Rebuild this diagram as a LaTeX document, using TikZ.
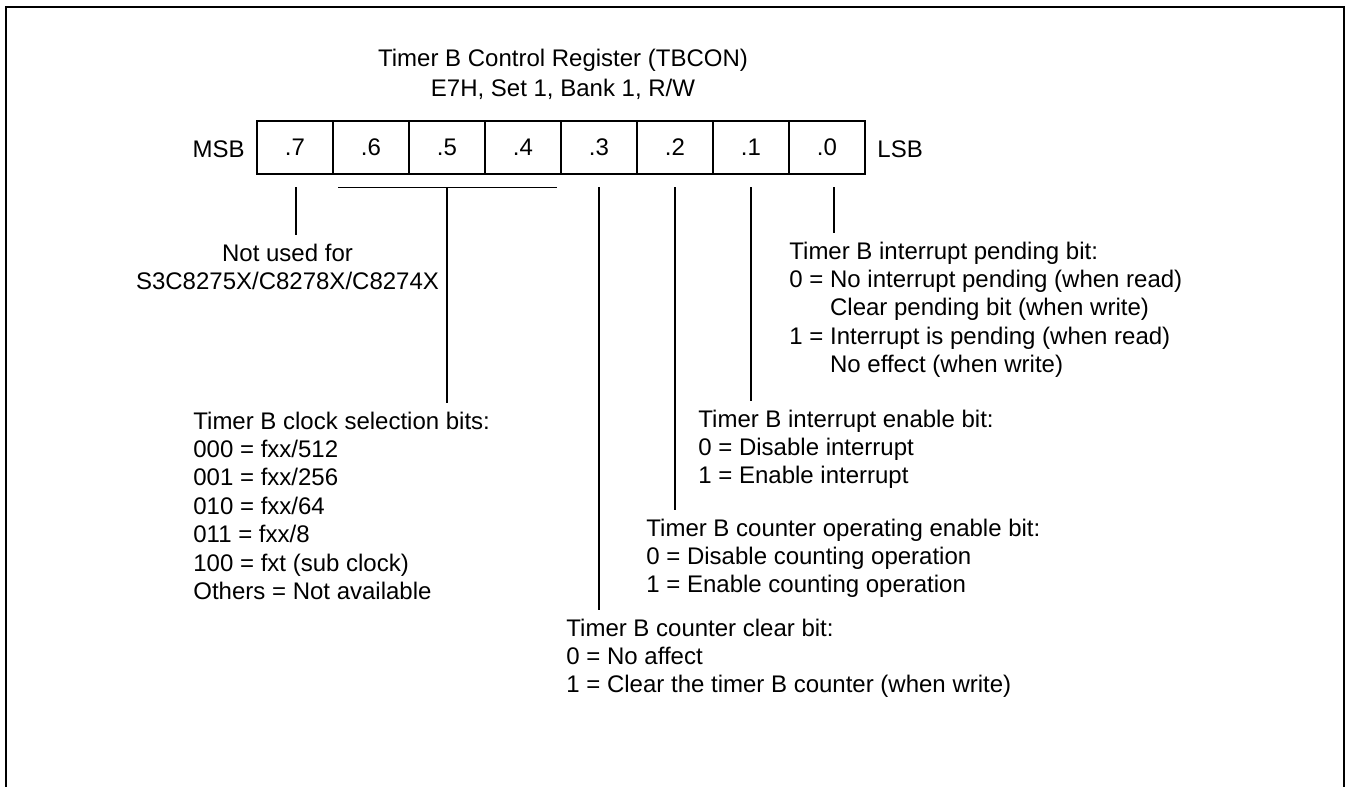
\documentclass[tikz,border=0pt]{standalone}
\usepackage{fontspec}
\setmainfont{Liberation Sans}

\begin{document}
\begin{tikzpicture}[x=0.5pt, y=-0.5pt,
  bitcell/.style={draw, line width=0.65pt, minimum width=38pt, minimum height=26.5pt, inner sep=0pt, font=\fontsize{12}{14.2}\selectfont},
  lbl/.style={inner xsep=0pt, inner ysep=4pt, font=\fontsize{12}{14.2}\selectfont},
  desc/.style={lbl, align=left, anchor=base west},
  lead/.style={line width=0.65pt},
  frame/.style={line width=1pt}]
\useasboundingbox (0,0) rectangle (1346,787);

\draw[frame] (6,787) -- (6,6.5) -- (1343.5,6.5) -- (1343.5,787);

% base of a multi-line node = baseline of its last line
\node[lbl, align=center, anchor=base, font=\fontsize{12}{15}\selectfont] at (563,96) (title)
  {Timer B Control Register (TBCON)\\E7H, Set 1, Bank 1, R/W};

\node[bitcell] at (295,147.5) (b7) {.7};
\node[bitcell] at (371,147.5) (b6) {.6};
\node[bitcell] at (447,147.5) (b5) {.5};
\node[bitcell] at (523,147.5) (b4) {.4};
\node[bitcell] at (599,147.5) (b3) {.3};
\node[bitcell] at (675,147.5) (b2) {.2};
\node[bitcell] at (751,147.5) (b1) {.1};
\node[bitcell] at (827,147.5) (b0) {.0};
\node[lbl, anchor=base east] at (245,157) (msb) {MSB};
\node[lbl, anchor=base west] at (877,157) (lsb) {LSB};

\node[lbl, align=center, anchor=base] at (287.5,289.4) (unused)
  {Not used for\\S3C8275X/C8278X/C8274X};

\node[desc] at (193,599.4) (clksel)
  {Timer B clock selection bits:\\
   000 = fxx/512\\
   001 = fxx/256\\
   010 = fxx/64\\
   011 = fxx/8\\
   100 = fxt (sub clock)\\
   Others = Not available};

\node[desc] at (789,372.6) (intpnd)
  {Timer B interrupt pending bit:\\
   0 = No interrupt pending (when read)\\
   \hphantom{0 = }Clear pending bit (when write)\\
   1 = Interrupt is pending (when read)\\
   \hphantom{1 = }No effect (when write)};

\node[desc] at (698,483.8) (inten)
  {Timer B interrupt enable bit:\\
   0 = Disable interrupt\\
   1 = Enable interrupt};

\node[desc] at (646,592.8) (cnten)
  {Timer B counter operating enable bit:\\
   0 = Disable counting operation\\
   1 = Enable counting operation};

\node[desc] at (566,692.8) (cntclr)
  {Timer B counter clear bit:\\
   0 = No affect\\
   1 = Clear the timer B counter (when write)};

% leader lines
\coordinate (t7) at (296,187);
\coordinate (brL) at (338,187.7);
\coordinate (brM) at (447,187.7);
\coordinate (brR) at (557,187.7);
\coordinate (t3) at (599,187);
\coordinate (t2) at (675,187);
\coordinate (t1) at (751,187);
\coordinate (t0) at (834,187);

\draw[lead] (t7) -- (t7 |- unused.north);
\draw[lead] (brL) -- (brR);
\draw[lead] (brM) -- (brM |- clksel.north);
\draw[lead] (t3) -- (t3 |- cntclr.north);
\draw[lead] (t2) -- (t2 |- cnten.north);
\draw[lead] (t1) -- (t1 |- inten.north);
\draw[lead] (t0) -- (t0 |- intpnd.north);
\end{tikzpicture}
\end{document}
